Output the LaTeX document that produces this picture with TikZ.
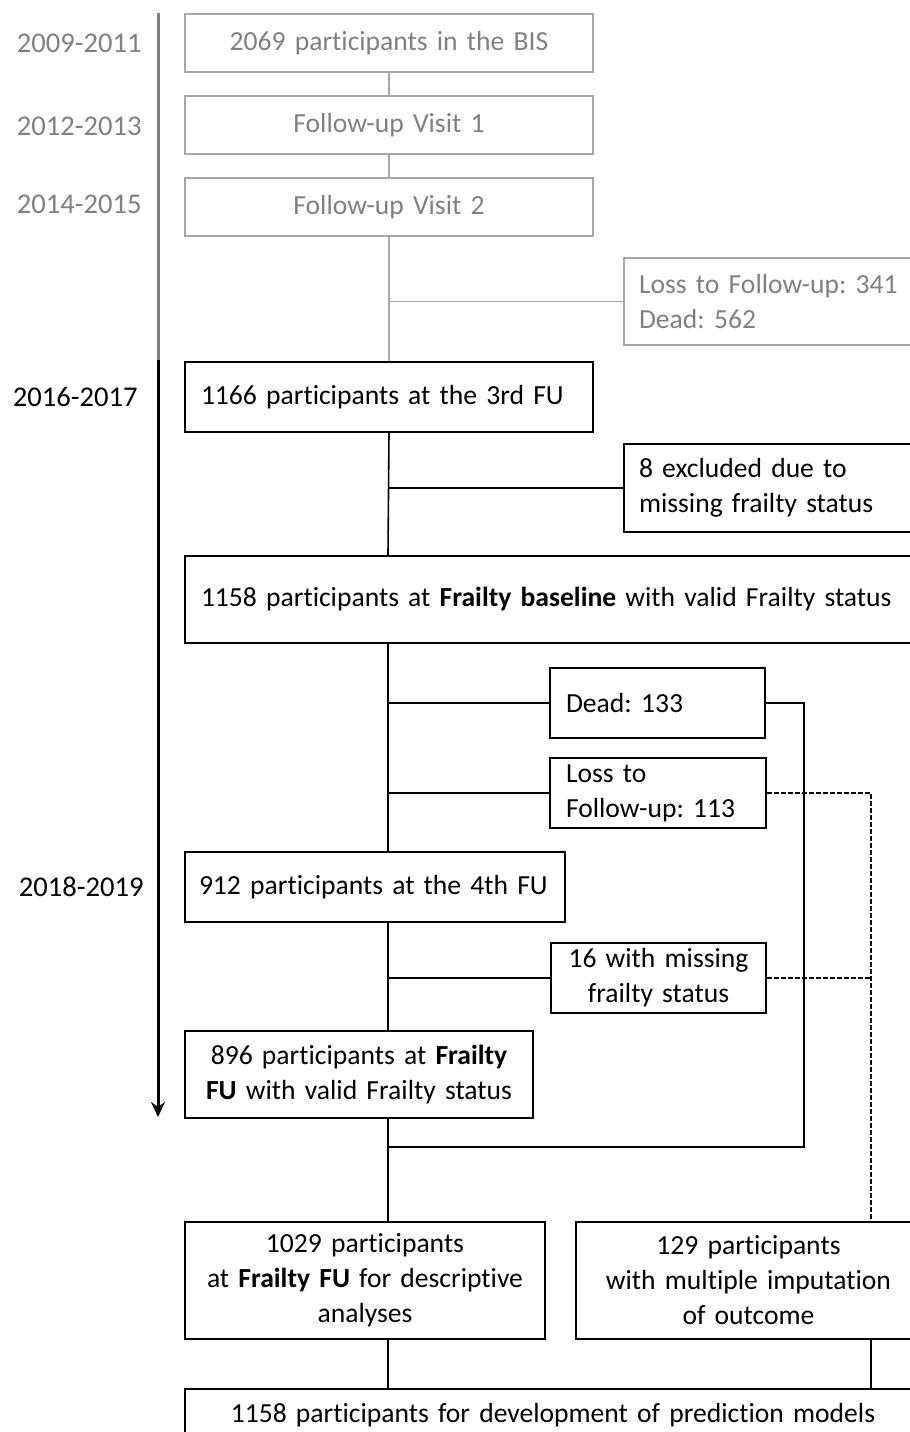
\documentclass[tikz,border=0pt]{standalone}
\usepackage{fontspec}
\usetikzlibrary{arrows.meta}
\setmainfont{Carlito}[Ligatures=NoCommon, WordSpace=0.85]
\frenchspacing
\definecolor{fadetext}{HTML}{808080}
\definecolor{fadeline}{HTML}{A6A6A6}
\begin{document}
\begin{tikzpicture}[x=0.5pt, y=-0.5pt, >={Stealth[length=7.5pt, width=7pt]},
  box/.style={draw, rectangle, anchor=north west, inner xsep=8pt, inner ysep=0pt, line width=1pt, font=\fontsize{13.8}{17.5}\selectfont},
  oldbox/.style={box, draw=fadeline, text=fadetext},
  year/.style={anchor=east, inner sep=0pt, font=\fontsize{14.3}{17.5}\selectfont},
  link/.style={line width=0.8pt},
  imputed/.style={link, dash pattern=on 2.5pt off 1pt}]
  \useasboundingbox (0,0) rectangle (910,1432);
  % earlier visits
  \node[oldbox, align=center, text width=188pt, minimum height=29pt] (v1) at (184,13) {2069 participants in the BIS};
  \node[oldbox, align=center, text width=188pt, minimum height=29pt] (v2) at (184,95) {Follow-up Visit 1};
  \node[oldbox, align=center, text width=188pt, minimum height=29pt] (v3) at (184,177) {Follow-up Visit 2};
  \node[oldbox, align=left, inner xsep=7.5pt, text width=133.5pt, minimum height=43.5pt] (loss1) at (623,257) {Loss to Follow-up: 341\\Dead: 562};
  % frailty part
  \node[box, align=left, text width=188pt, minimum height=35pt] (v4) at (184,361) {1166 participants at the 3rd FU};
  \node[box, align=left, inner xsep=7.5pt, text width=133.5pt, minimum height=44pt] (ex1) at (623,443) {8 excluded due to\\missing frailty status};
  \node[box, align=left, text width=352pt, minimum height=43.5pt] (v5) at (184,555) {1158 participants at \textbf{Frailty baseline} with valid Frailty status};
  \node[box, align=left, text width=91.5pt, minimum height=35pt] (dead) at (549,667) {Dead: 133};
  \node[box, align=left, text width=92pt, minimum height=35pt] (loss2) at (549,757) {Loss to\\Follow-up: 113};
  \node[box, align=left, inner xsep=7pt, text width=176pt, minimum height=35pt] (v6) at (184,851) {912 participants at the 4th FU};
  \node[box, align=center, text width=91.5pt, minimum height=35pt] (miss) at (550,942) {16 with missing\\frailty status};
  \node[box, align=center, text width=158pt, minimum height=43.5pt] (v7) at (184,1030) {896 participants at \textbf{Frailty}\\\textbf{FU} with valid Frailty status};
  \node[box, align=center, text width=164pt, minimum height=58.5pt] (v8) at (184,1221) {1029 participants\\at \textbf{Frailty FU} for descriptive\\analyses};
  \node[box, align=center, text width=156.5pt, minimum height=58.5pt] (v9) at (575,1221) {129 participants\\with multiple imputation\\of outcome};
  \node[box, align=center, text width=352pt, minimum height=26pt] (v10) at (184,1388) {1158 participants for development of prediction models};
  % years
  \node[year, text=fadetext] (y1) at (142,43) {2009-2011};
  \node[year, text=fadetext] (y2) at (142,126) {2012-2013};
  \node[year, text=fadetext] (y3) at (142,204) {2014-2015};
  \node[year] (y4) at (138,397) {2016-2017};
  \node[year] (y5) at (144,887) {2018-2019};
  % timeline
  \coordinate (t0) at (158,13);
  \coordinate (t1) at (158,360);
  \coordinate (t2) at (158,1117);
  \draw[line width=1.5pt, fadetext] (t0) -- (t1);
  \draw[->, line width=1.5pt] (t1) -- (t2);
  % connectors
  \coordinate (trunk) at (388,0);
  \coordinate (merge) at (804,1147);
  \coordinate (pool) at (871,0);
  \draw[link, fadeline] (v1.south) -- (v2.north);
  \draw[link, fadeline] (v2.south) -- (v3.north);
  \draw[link, fadeline] (v3.south) -- (v4.north);
  \draw[link, fadeline] (trunk |- loss1.west) -- (loss1.west);
  \draw[link] (v4.south) -- (v5.north -| trunk);
  \draw[link] (trunk |- ex1.west) -- (ex1.west);
  \draw[link] (v5.south -| trunk) -- (v6.north -| trunk);
  \draw[link] (trunk |- dead.west) -- (dead.west);
  \draw[link] (trunk |- loss2.west) -- (loss2.west);
  \draw[link] (v6.south -| trunk) -- (v7.north -| trunk);
  \draw[link] (trunk |- miss.west) -- (miss.west);
  \draw[link] (v7.south -| trunk) -- (v8.north -| trunk);
  \draw[link] (dead.east) -| (merge) -- (trunk |- merge);
  \draw[imputed] (loss2.east) -| (v9.north -| pool);
  \draw[imputed] (miss.east) -- (miss.east -| pool);
  \draw[link] (v8.south -| trunk) -- (v10.north -| trunk);
  \draw[link] (v9.south -| pool) -- (v10.north -| pool);
\end{tikzpicture}
\end{document}
